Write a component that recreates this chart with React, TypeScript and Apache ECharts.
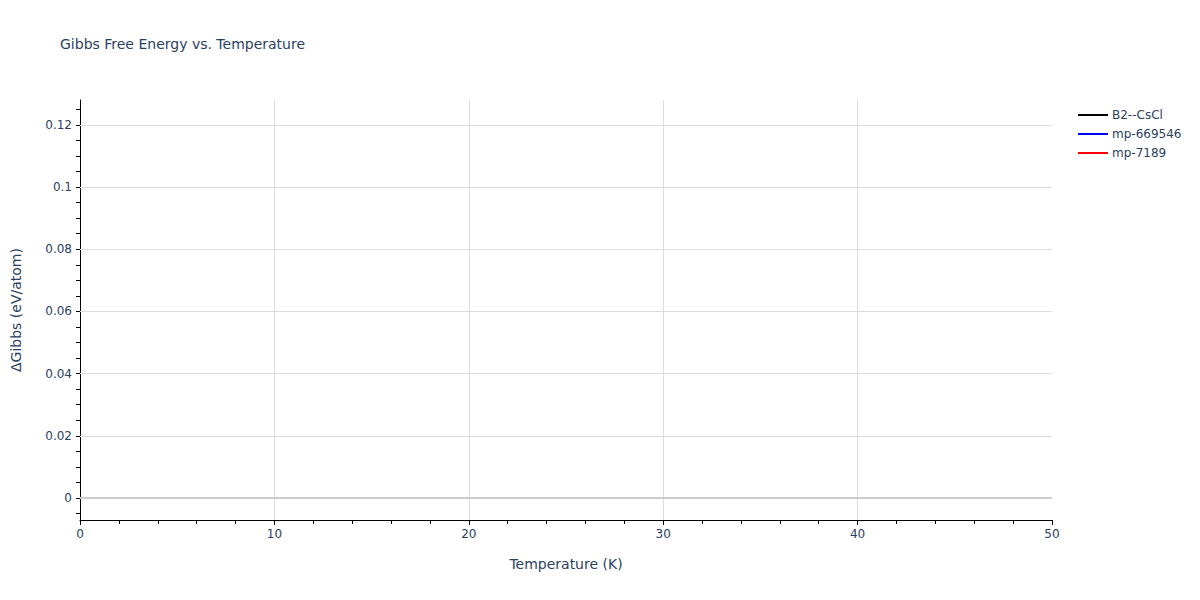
import { useEffect, useRef } from 'react';
import * as echarts from 'echarts';

// the source figure has the three traces in the legend but no visible points
const seriesNames = ['B2--CsCl', 'mp-669546', 'mp-7189'];
const seriesColors = ['#000000', '#0000ff', '#ff0000'];
const seriesData: number[][][] = [[], [], []];

const xGridTicks = [10, 20, 30, 40];
const yLabelTicks = [0, 0.02, 0.04, 0.06, 0.08, 0.1, 0.12];
const yMinorTicks = [-0.005, 0, 0.005, 0.01, 0.015, 0.02, 0.025, 0.03, 0.035, 0.04, 0.045, 0.05, 0.055, 0.06, 0.065, 0.07, 0.075, 0.08, 0.085, 0.09, 0.095, 0.1, 0.105, 0.11, 0.115, 0.12, 0.125];
const yRange = [-0.0071, 0.128];
const xRange = [0, 50];

const font = '"DejaVu Sans", Verdana, sans-serif';
const ink = '#2a3f5f';
const gridColor = '#dcdcdc';

export default function App() {
  const ref = useRef<HTMLDivElement>(null);

  useEffect(() => {
    document.body.style.margin = '0';
    if (!ref.current) return;
    const chart = echarts.init(ref.current, undefined, { renderer: 'svg' });

    const plainMark = (data: object[], color: string, width: number) => ({
      silent: true,
      symbol: ['none', 'none'],
      label: { show: false },
      lineStyle: { color, width, type: 'solid' },
      data
    });

    chart.setOption({
      animation: false,
      backgroundColor: '#ffffff',
      textStyle: { fontFamily: font, color: ink },
      title: {
        text: 'Gibbs Free Energy vs. Temperature',
        left: 55,
        top: 32,
        textStyle: { fontFamily: font, fontSize: 14, fontWeight: 'normal', color: ink }
      },
      legend: {
        orient: 'vertical',
        left: 1073,
        top: 104,
        itemGap: 7,
        itemWidth: 30,
        itemHeight: 2,
        icon: 'rect',
        textStyle: { fontFamily: font, fontSize: 12, color: ink, padding: [0, 0, 0, -1] },
        data: seriesNames
      },
      grid: { left: 80, right: 148, top: 100, bottom: 80, containLabel: false },
      xAxis: {
        type: 'value',
        min: xRange[0],
        max: xRange[1],
        interval: 10,
        name: 'Temperature (K)',
        nameLocation: 'middle',
        nameGap: 37,
        nameTextStyle: { fontFamily: font, fontSize: 14, color: ink },
        axisLine: { show: true, onZero: false, lineStyle: { color: '#000000', width: 1 } },
        axisTick: { show: true, inside: false, length: 5, lineStyle: { color: '#000000' } },
        minorTick: { show: true, splitNumber: 5, length: 4, lineStyle: { color: '#000000' } },
        axisLabel: { fontFamily: font, fontSize: 12, color: ink, margin: 8 },
        splitLine: { show: false }
      },
      yAxis: {
        type: 'value',
        min: yRange[0],
        max: yRange[1],
        name: 'ΔGibbs (eV/atom)',
        nameLocation: 'middle',
        nameGap: 57,
        nameTextStyle: { fontFamily: font, fontSize: 14, color: ink },
        axisLine: { show: true, onZero: false, lineStyle: { color: '#000000', width: 1 } },
        axisTick: { show: true, inside: false, length: 4, customValues: yMinorTicks, lineStyle: { color: '#000000' } },
        axisLabel: {
          fontFamily: font,
          fontSize: 12,
          color: ink,
          margin: 8,
          customValues: yLabelTicks,
          formatter: (v: number) => String(Math.round(v * 1000) / 1000)
        },
        splitLine: { show: false }
      },
      series: [
        {
          name: 'grid',
          type: 'line',
          data: [],
          silent: true,
          markLine: plainMark(
            [
              ...yLabelTicks.filter((v) => v !== 0).map((v) => ({ yAxis: v })),
              ...xGridTicks.map((v) => ({ xAxis: v }))
            ],
            gridColor,
            1
          )
        },
        {
          name: 'zero',
          type: 'line',
          data: [],
          silent: true,
          markLine: plainMark([{ yAxis: 0 }], '#cccccc', 2)
        },
        ...seriesNames.map((name, i) => ({
          name,
          type: 'line',
          data: seriesData[i],
          showSymbol: false,
          itemStyle: { color: seriesColors[i] },
          lineStyle: { color: seriesColors[i], width: 2 }
        }))
      ]
    });

    return () => {
      chart.dispose();
    };
  }, []);

  return <div ref={ref} style={{ width: 1200, height: 600 }} />;
}
